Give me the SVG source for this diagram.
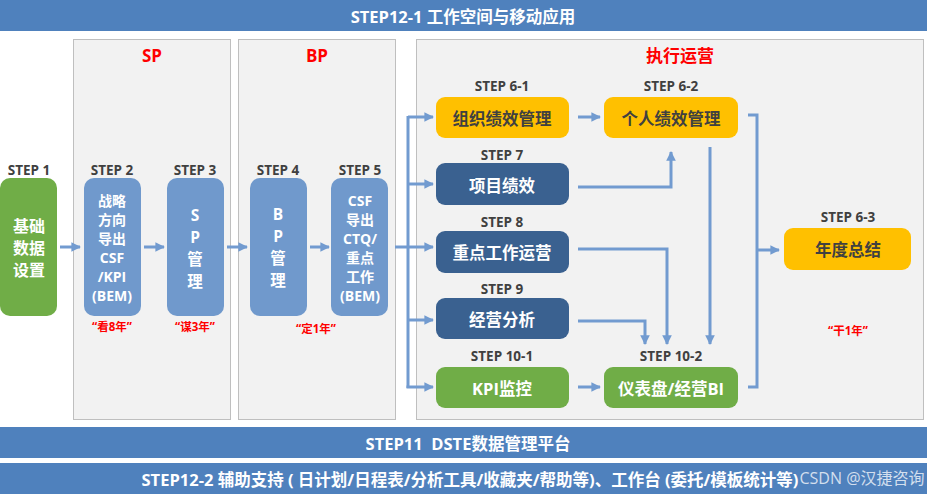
<svg xmlns="http://www.w3.org/2000/svg" width="927" height="494" viewBox="0 0 927 494">
<defs>
<style>
text{font-family:"Open Sans","Noto Sans CJK SC",sans-serif;font-weight:bold;text-anchor:middle;dominant-baseline:central}
.bar{fill:#4f81bd}
.bartxt{fill:#fff;font-size:16.5px}
.panel{fill:#f2f2f2;stroke:#bfbfbf;stroke-width:1}
.red{fill:#ff0000;font-size:17px}
.quote{fill:#ff0000;font-size:11.5px}
.lbl{fill:#404040;font-size:13.5px}
.green{fill:#70ad47}
.lblue{fill:#7099cc}
.dblue{fill:#3a6190}
.yellow{fill:#ffc000}
.wt{fill:#fff;font-size:16.5px}
.vt{fill:#fff;font-size:15.5px}
.vs{fill:#fff;font-size:14px}
.yt{fill:#404040;font-size:16.5px}
.conn{fill:none;stroke:#729bd0;stroke-width:3}
</style>
<marker id="ah" viewBox="0 0 10 10" refX="9" refY="5" markerWidth="3.2" markerHeight="3.2" orient="auto" markerUnits="strokeWidth">
<path d="M0,0 L10,5 L0,10 z" fill="#729bd0"/>
</marker>
</defs>
<rect width="927" height="494" fill="#ffffff"/>
<g id="bar-top"><rect class="bar" x="0" y="0" width="927" height="31"/><text class="bartxt" x="463" y="16">STEP12-1 工作空间与移动应用</text></g>
<g id="panel-sp"><rect class="panel" x="73.5" y="39.5" width="157" height="380"/><text class="red" x="152" y="55">SP</text></g>
<g id="panel-bp"><rect class="panel" x="238.5" y="39.5" width="157" height="380"/><text class="red" x="317" y="55">BP</text></g>
<g id="panel-exec"><rect class="panel" x="416.5" y="39.5" width="507" height="380"/><text class="red" x="680" y="55">执行运营</text></g>
<g id="bar-step11"><rect class="bar" x="0" y="427" width="927" height="31"/><text class="bartxt" x="468" y="443" xml:space="preserve">STEP11  DSTE数据管理平台</text></g>
<g id="bar-step12-2"><rect class="bar" x="0" y="463" width="927" height="31"/><text class="bartxt" x="470" y="479">STEP12-2 辅助支持 ( 日计划/日程表/分析工具/收藏夹/帮助等)、工作台 (委托/模板统计等)</text></g>

<g id="connectors">
<path class="conn" d="M60,247 H80" marker-end="url(#ah)"/>
<path class="conn" d="M144,247 H164" marker-end="url(#ah)"/>
<path class="conn" d="M227,247 H247" marker-end="url(#ah)"/>
<path class="conn" d="M310,247 H329" marker-end="url(#ah)"/>
<path class="conn" d="M395,247 H408"/>
<path class="conn" d="M408,116 V388"/>
<path class="conn" d="M408,117 H433" marker-end="url(#ah)"/>
<path class="conn" d="M408,184 H433" marker-end="url(#ah)"/>
<path class="conn" d="M408,247 H433" marker-end="url(#ah)"/>
<path class="conn" d="M408,320 H433" marker-end="url(#ah)"/>
<path class="conn" d="M406.5,387 H433" marker-end="url(#ah)"/>
<path class="conn" d="M578,117 H600" marker-end="url(#ah)"/>
<path class="conn" d="M578,187 H671 V152" marker-end="url(#ah)"/>
<path class="conn" d="M578,249 H667 V344" marker-end="url(#ah)"/>
<path class="conn" d="M578,321 H645 V344" marker-end="url(#ah)"/>
<path class="conn" d="M710,147 V344" marker-end="url(#ah)"/>
<path class="conn" d="M578,387 H600" marker-end="url(#ah)"/>
<path class="conn" d="M748,115 H757 V387 H748"/>
<path class="conn" d="M757,250 H779" marker-end="url(#ah)"/>
</g>

<g id="step1"><text class="lbl" x="29" y="170">STEP 1</text><rect class="green" x="0" y="178" width="57" height="138" rx="10"/>
<text class="wt" style="font-size:16px"><tspan x="29" y="226">基础</tspan><tspan x="29" y="248">数据</tspan><tspan x="29" y="270">设置</tspan></text></g>
<g id="step2"><text class="lbl" x="112" y="170">STEP 2</text><rect class="lblue" x="84" y="178" width="57" height="138" rx="10"/>
<text class="vs"><tspan x="112" y="200">战略</tspan><tspan x="112" y="219">方向</tspan><tspan x="112" y="238">导出</tspan><tspan x="112" y="257">CSF</tspan><tspan x="112" y="276">/KPI</tspan><tspan x="112" y="295">(BEM)</tspan></text>
<text class="quote" x="112" y="326">“看8年”</text></g>
<g id="step3"><text class="lbl" x="195" y="170">STEP 3</text><rect class="lblue" x="167" y="178" width="57" height="138" rx="10"/>
<text class="vt"><tspan x="195" y="215">S</tspan><tspan x="195" y="237">P</tspan><tspan x="195" y="259">管</tspan><tspan x="195" y="281">理</tspan></text>
<text class="quote" x="195" y="326">“谋3年”</text></g>
<g id="step4"><text class="lbl" x="278" y="170">STEP 4</text><rect class="lblue" x="250" y="178" width="57" height="138" rx="10"/>
<text class="vt"><tspan x="278" y="214">B</tspan><tspan x="278" y="236">P</tspan><tspan x="278" y="258">管</tspan><tspan x="278" y="280">理</tspan></text></g>
<g id="step5"><text class="lbl" x="360" y="170">STEP 5</text><rect class="lblue" x="331" y="178" width="57" height="138" rx="10"/>
<text class="vs"><tspan x="360" y="200">CSF</tspan><tspan x="360" y="219">导出</tspan><tspan x="360" y="238">CTQ/</tspan><tspan x="360" y="257">重点</tspan><tspan x="360" y="276">工作</tspan><tspan x="360" y="295">(BEM)</tspan></text>
<text class="quote" x="316" y="328">“定1年”</text></g>

<g id="step6-1"><text class="lbl" x="502" y="86">STEP 6-1</text><rect class="yellow" x="436" y="97" width="133" height="41" rx="9"/><text class="yt" x="502" y="118">组织绩效管理</text></g>
<g id="step6-2"><text class="lbl" x="671" y="86">STEP 6-2</text><rect class="yellow" x="604" y="97" width="134" height="41" rx="9"/><text class="yt" x="671" y="118">个人绩效管理</text></g>
<g id="step7"><text class="lbl" x="502" y="155">STEP 7</text><rect class="dblue" x="436" y="163" width="133" height="42" rx="9"/><text class="wt" x="502" y="185">项目绩效</text></g>
<g id="step8"><text class="lbl" x="502" y="222">STEP 8</text><rect class="dblue" x="436" y="231" width="133" height="42" rx="9"/><text class="wt" x="502" y="252">重点工作运营</text></g>
<g id="step9"><text class="lbl" x="502" y="289">STEP 9</text><rect class="dblue" x="436" y="298" width="133" height="41" rx="9"/><text class="wt" x="502" y="319">经营分析</text></g>
<g id="step10-1"><text class="lbl" x="502" y="356">STEP 10-1</text><rect class="green" x="436" y="367" width="133" height="41" rx="9"/><text class="wt" x="502" y="388">KPI监控</text></g>
<g id="step10-2"><text class="lbl" x="671" y="356">STEP 10-2</text><rect class="green" x="604" y="367" width="134" height="41" rx="9"/><text class="wt" x="671" y="388">仪表盘/经营BI</text></g>
<g id="step6-3"><text class="lbl" x="848" y="217">STEP 6-3</text><rect class="yellow" x="784" y="228" width="127" height="42" rx="9"/><text class="yt" x="848" y="249">年度总结</text>
<text class="quote" x="848" y="330">“干1年”</text></g>
<g id="watermark"><text x="862" y="478" style="font-weight:normal;font-size:16px;fill:#ffffff;fill-opacity:0.75">CSDN @汉捷咨询</text></g>
</svg>
